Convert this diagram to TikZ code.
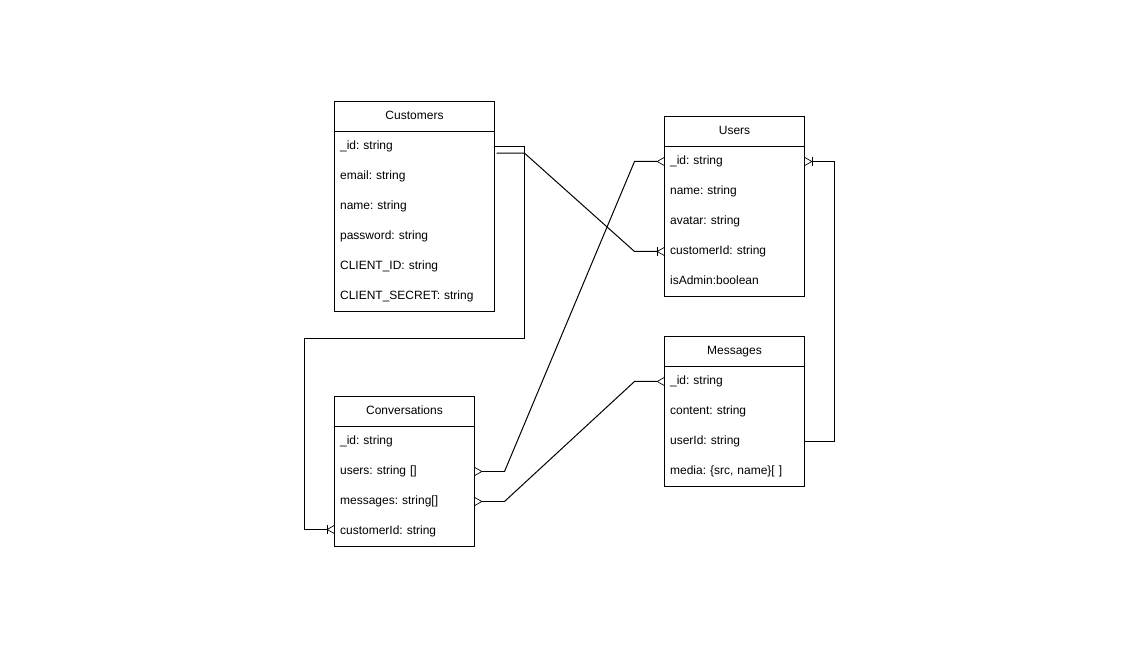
\documentclass[tikz,border=0pt]{standalone}
\usepackage{fontspec}
\setmainfont{Liberation Sans}
\frenchspacing
\usetikzlibrary{arrows.meta,positioning}

\tikzset{
  entityhead/.style={draw,anchor=north west,outer sep=0pt,inner sep=0pt,minimum width=#1,minimum height=22.5pt,text height=6.75pt,text depth=2.25pt,font=\fontsize{9}{11}\selectfont},
  entityrow/.style={below=0pt of #1,outer sep=0pt,inner ysep=0pt,inner xsep=4.2pt,minimum height=22.5pt,text height=6.75pt,text depth=2.25pt,align=left,font=\fontsize{9}{11}\selectfont},
  widerow/.style={text width=111.6pt},
  narrowrow/.style={text width=96.6pt},
  linkmany/.style={draw,-{Straight Barb[reversed,length=5.25pt,width=6pt,line width=0.5pt]}},
  linkonemany/.style={draw,-{Bar[width=6.5pt,sep=-0.75pt,line width=0.7pt]Straight Barb[reversed,length=5.25pt,width=6pt,line width=0.5pt]}},
}

\begin{document}
\begin{tikzpicture}[x=0.75pt,y=0.75pt,yscale=-1,xscale=1,line width=0.75pt]
\path[fill=white,use as bounding box] (0,0) rectangle (1140,648);

% Customers
\node[entityhead=120pt] (customers) at (334.5,101.5) {Customers};
\node[entityrow=customers,widerow] (customersId) {\_id: string};
\node[entityrow=customersId,widerow] (customersEmail) {email: string};
\node[entityrow=customersEmail,widerow] (customersName) {name: string};
\node[entityrow=customersName,widerow] (customersPassword) {password: string};
\node[entityrow=customersPassword,widerow] (customersClient) {CLIENT\_ID: string};
\node[entityrow=customersClient,widerow] (customersSecret) {CLIENT\_SECRET: string};
\draw (customers.south west) rectangle (customersSecret.south east);

% Users
\node[entityhead=105pt] (users) at (664.5,116.5) {Users};
\node[entityrow=users,narrowrow] (usersId) {\_id: string};
\node[entityrow=usersId,narrowrow] (usersName) {name: string};
\node[entityrow=usersName,narrowrow] (usersAvatar) {avatar: string};
\node[entityrow=usersAvatar,narrowrow] (usersCustomer) {customerId: string};
\node[entityrow=usersCustomer,narrowrow] (usersAdmin) {isAdmin:boolean};
\draw (users.south west) rectangle (usersAdmin.south east);

% Messages
\node[entityhead=105pt] (messages) at (664.5,336.5) {Messages};
\node[entityrow=messages,narrowrow] (messagesId) {\_id: string};
\node[entityrow=messagesId,narrowrow] (messagesContent) {content: string};
\node[entityrow=messagesContent,narrowrow] (messagesUser) {userId: string};
\node[entityrow=messagesUser,narrowrow] (messagesMedia) {media: \{src, name\}[ ]};
\draw (messages.south west) rectangle (messagesMedia.south east);

% Conversations
\node[entityhead=105pt] (conversations) at (334.5,396.5) {Conversations};
\node[entityrow=conversations,narrowrow] (conversationsId) {\_id: string};
\node[entityrow=conversationsId,narrowrow] (conversationsUsers) {users: string []};
\node[entityrow=conversationsUsers,narrowrow] (conversationsMessages) {messages: string[]};
\node[entityrow=conversationsMessages,narrowrow] (conversationsCustomer) {customerId: string};
\draw (conversations.south west) rectangle (conversationsCustomer.south east);

% Connectors
\draw[linkonemany] (customersId.east) -- ++(30,0) |- (304.5,338.5) |- ([yshift=-1.5pt]conversationsCustomer.west);
\draw[linkonemany] ([xshift=1.5pt,yshift=5pt]customersId.east) -- ++(28,0) -- (634.5,251.5) -- (usersCustomer.west);
\draw[linkmany] (504.5,471.5) -- (634.5,161.5) -- (usersId.west);
\draw[linkmany] (504.5,471.5) -- (conversationsUsers.east);
\draw[linkmany] (504.5,501.5) -- (634.5,381.5) -- (messagesId.west);
\draw[linkmany] (504.5,501.5) -- (conversationsMessages.east);
\draw[linkonemany] (messagesUser.east) -- ++(30,0) |- (usersId.east);

\end{tikzpicture}
\end{document}
